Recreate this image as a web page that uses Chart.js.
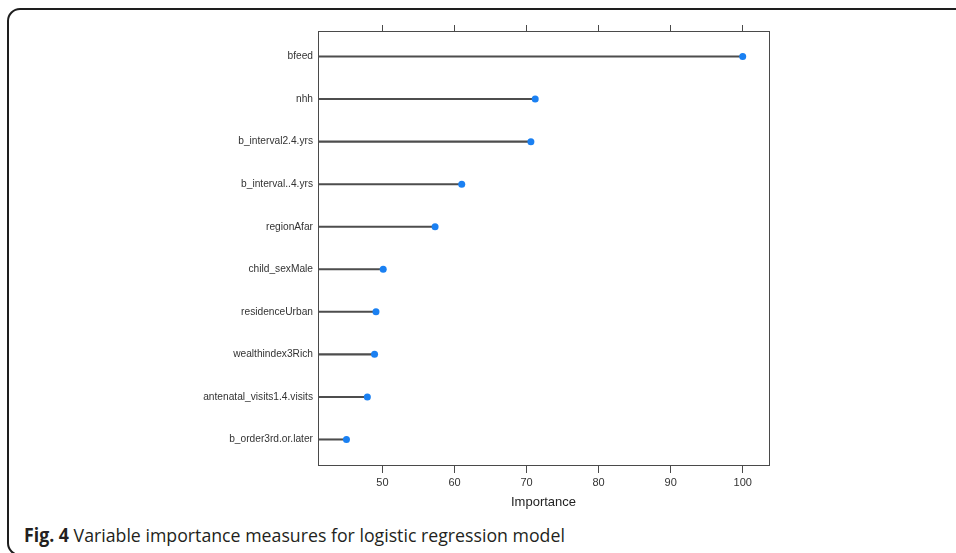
<!DOCTYPE html>
<html>
<head>
<meta charset="utf-8">
<script src="https://cdn.jsdelivr.net/npm/chart.js@4/dist/chart.umd.min.js"></script>
<style>
html, body { margin: 0; padding: 0; background: #fff; overflow: hidden; }
body { width: 956px; height: 553px; position: relative; }
.frame {
    position: absolute; left: 7px; top: 8px; width: 1000px; height: 548px;
    border: 2px solid #1e1e1e; border-radius: 13px; box-sizing: border-box;
}
.chart-box { position: absolute; left: 0; top: 0; width: 956px; height: 520px; }
.caption {
    position: absolute; left: 24px; top: 522px;
    font-family: 'Open Sans', sans-serif; font-size: 19px; color: #231f20;
    white-space: nowrap; transform-origin: left center;
}
.caption b { font-weight: 700; }
</style>
</head>
<body>
<div class="frame"></div>
<div class="chart-box"><canvas id="impChart"></canvas></div>
<div class="caption" id="caption"><b>Fig. 4</b> Variable importance measures for logistic regression model</div>
<script>
'use strict';

// Data
const variables = [
    'bfeed', 'nhh', 'b_interval2.4.yrs', 'b_interval..4.yrs', 'regionAfar',
    'child_sexMale', 'residenceUrban', 'wealthindex3Rich',
    'antenatal_visits1.4.visits', 'b_order3rd.or.later'
];
const importance = [100, 71.2, 70.6, 61.0, 57.3, 50.1, 49.1, 48.9, 47.9, 45.0];
const xTicks = [50, 60, 70, 80, 90, 100];

// axis range (lattice pads the panel a little)
const X_MIN = 41.05;
const X_MAX = 103.65;

const LABEL_FONT = { family: "'Liberation Sans', Arial, sans-serif", size: 10.2 };
const AXIS_COLOR = '#4a4a4a';

const setTicks = scale => { scale.ticks = xTicks.map(v => ({ value: v })); };

new Chart(document.getElementById('impChart'), {
    type: 'bar',
    data: {
        datasets: [
            {
                type: 'scatter',
                data: importance.map((v, i) => ({ x: v, y: i })),
                backgroundColor: '#1a80f2',
                borderWidth: 0,
                pointRadius: 3.5,
                order: 0
            },
            {
                type: 'bar',
                data: importance.map((v, i) => ({ x: [X_MIN, v], y: i })),
                backgroundColor: '#4d4d4d',
                barThickness: 1.4,
                order: 1
            }
        ]
    },
    options: {
        indexAxis: 'y',
        responsive: true,
        maintainAspectRatio: false,
        animation: false,
        layout: { padding: { left: 0, right: 187, top: 0, bottom: 0 } },
        plugins: { legend: { display: false }, tooltip: { enabled: false } },
        scales: {
            x: {
                type: 'linear',
                position: 'bottom',
                min: X_MIN,
                max: X_MAX,
                afterBuildTicks: setTicks,
                afterFit: s => { s.height = 55; },
                grid: { display: true, drawOnChartArea: false, drawTicks: true, tickLength: 8, color: AXIS_COLOR },
                border: { display: true, color: AXIS_COLOR, width: 1 },
                ticks: { font: { family: LABEL_FONT.family, size: 11 }, color: '#333', padding: 3, maxRotation: 0 },
                title: {
                    display: true,
                    text: 'Importance',
                    font: { family: LABEL_FONT.family, size: 13 },
                    color: '#222',
                    padding: { top: 4, bottom: 10 }
                }
            },
            x2: {
                type: 'linear',
                position: 'top',
                min: X_MIN,
                max: X_MAX,
                afterBuildTicks: setTicks,
                afterFit: s => { s.height = 31; },
                grid: { display: true, drawOnChartArea: false, drawTicks: true, tickLength: 6, color: AXIS_COLOR },
                border: { display: true, color: AXIS_COLOR, width: 1 },
                ticks: { display: false }
            },
            y: {
                type: 'linear',
                position: 'left',
                reverse: true,
                offset: false,
                min: -0.6,
                max: 9.6,
                afterBuildTicks: scale => { scale.ticks = variables.map((_, i) => ({ value: i })); },
                afterFit: s => { s.width = 318; },
                grid: { display: false, drawTicks: false, offset: false },
                border: { display: true, color: AXIS_COLOR, width: 1 },
                ticks: {
                    font: LABEL_FONT,
                    color: '#333',
                    padding: 5,
                    callback: v => variables[v]
                }
            },
            y2: {
                type: 'linear',
                position: 'right',
                offset: false,
                min: -0.6,
                max: 9.6,
                afterFit: s => { s.width = 0; },
                grid: { display: false, drawTicks: false, offset: false },
                border: { display: true, color: AXIS_COLOR, width: 1 },
                ticks: { display: false }
            }
        }
    }
});

// squeeze caption to the condensed width of the original typeface
const cap = document.getElementById('caption');
const w = cap.getBoundingClientRect().width;
cap.style.transform = 'scaleX(' + (541 / w).toFixed(3) + ')';
</script>
</body>
</html>
